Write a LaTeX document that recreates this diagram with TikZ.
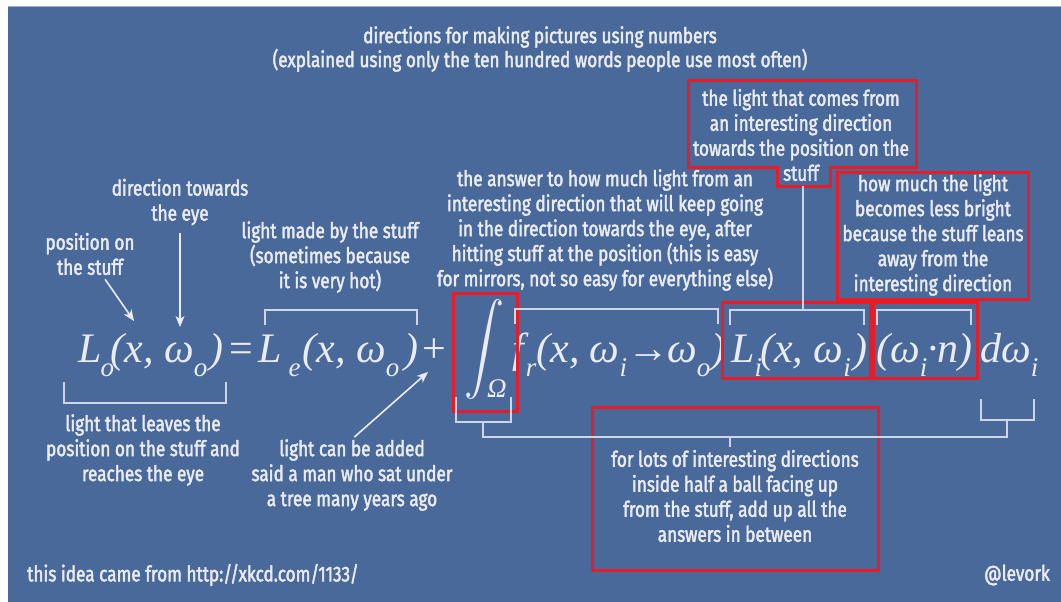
\documentclass[tikz,border=0pt]{standalone}
\usepackage{fontspec}
\usepackage{graphicx}
\usetikzlibrary{arrows.meta}
\newfontfamily\hand{Fira Sans}[FakeStretch=0.8,FakeBold=2]
\newfontfamily\eqf{Liberation Serif}
\newcommand\sbx[1]{\raisebox{-14pt}{\fontsize{27}{27}\selectfont #1}}
\definecolor{bg}{RGB}{73,105,155}
\definecolor{ink}{RGB}{234,236,242}
\definecolor{brk}{RGB}{205,214,230}
\definecolor{boxred}{RGB}{232,28,38}
\definecolor{edge}{RGB}{150,175,220}
\begin{document}
\begin{tikzpicture}[x=1pt,y=-1pt,
  txt/.style={font=\hand\fontsize{21.5}{25}\selectfont, text=ink, align=center, inner sep=0pt},
  big/.style={font=\eqf\itshape\fontsize{42}{42}\selectfont, text=ink, anchor=base west, inner sep=0pt},
  bigup/.style={font=\eqf\fontsize{42}{42}\selectfont, text=ink, anchor=base west, inner sep=0pt},
  sml/.style={font=\eqf\itshape\fontsize{27}{27}\selectfont, text=ink, anchor=base west, inner sep=0pt},
  brk/.style={draw=brk, line width=2pt},
  redbox/.style={draw=boxred, line width=3pt},
  arr/.style={draw=ink, line width=1.6pt, -{Stealth[length=11pt,width=9pt,inset=3pt]}}]
\useasboundingbox (0,0) rectangle (1061,602);
\fill[white] (0,0) rectangle (1061,602);
\fill[bg] (8,6) rectangle (1061,602);
\draw[edge, line width=1pt] (8,6.5) -- (1061,6.5);

% title
\node[txt, font=\hand\fontsize{21.5}{24}\selectfont] (title) at (540,49)
  {directions for making pictures using numbers\\(explained using only the ten hundred words people use most often)};

% equation
\node[big] (lo) at (78,362) {L\kern-1pt\sbx{o}\kern-3.5pt(x, ω\sbx{o}\kern2pt)};
\node[bigup] (eq) at (229,362) {=};
\node[big] (le) at (258,362) {L\kern7pt\sbx{e}\kern2pt(x, ω\sbx{o}\kern5pt)};
\node[bigup] (plus) at (422,362) {+};
\node[text=ink, inner sep=0pt] (int) at (484,350) {\resizebox*{40pt}{100pt}{$\displaystyle\int$}};
\node[sml] (om) at (487,397) {Ω};
\node[big] (fr) at (512,362) {f\kern2pt\sbx{r}(x, ω\sbx{i}{\upshape →}\kern-2ptω\sbx{o}\kern1pt)};
\node[big] (li) at (731,362) {L\sbx{i}\kern-2pt(x, ω\sbx{i}\kern3pt)};
\node[big] (cosn) at (876,362) {(ω\sbx{i}\kern0pt·n)};
\node[big] (dw) at (980,362) {dω\sbx{i}};

% labels
\node[txt] (dir) at (180,202) {direction towards\\the eye};
\node[txt] (posn) at (90,254) {position on\\the stuff};
\node[txt] (emit) at (330,257) {light made by the stuff\\(sometimes because\\it is very hot)};
\node[txt] (brdf) at (605,230) {the answer to how much light from an\\interesting direction that will keep going\\in the direction towards the eye, after\\hitting stuff at the position (this is easy\\for mirrors, not so easy for everything else)};
\node[txt] (incl) at (801,135) {the light that comes from\\an interesting direction\\towards the position on the\\stuff};
\node[txt] (cosl) at (933,235) {how much the light\\becomes less bright\\because the stuff leans\\away from the\\interesting direction};
\node[txt] (outl) at (143,450) {light that leaves the\\position on the stuff and\\reaches the eye};
\node[txt] (add) at (352,475) {light can be added\\said a man who sat under\\a tree many years ago};
\node[txt] (sum) at (735,496) {for lots of interesting directions\\inside half a ball facing up\\from the stuff, add up all the\\answers in between};
\node[txt, anchor=west] (src) at (27,575) {this idea came from http://xkcd.com/1133/};
\node[txt, anchor=east] (auth) at (1050,575) {@levork};

% red boxes
\draw[redbox] (688,81) -- (916,81) -- (916,167) -- (830,167) -- (830,186) -- (777,186) -- (777,167) -- (688,167) -- cycle;
\node[redbox, minimum width=191pt, minimum height=127pt, inner sep=0pt] (cosbox) at (933,235.5) {};
\node[redbox, minimum width=148pt, minimum height=76pt, inner sep=0pt] (libox) at (796,340.5) {};
\node[redbox, minimum width=104pt, minimum height=76pt, inner sep=0pt] (cbox) at (925,340.5) {};
\node[redbox, minimum width=64pt, minimum height=118pt, inner sep=0pt] (ibox) at (485,352) {};
\node[redbox, minimum width=286pt, minimum height=163pt, inner sep=0pt] (sumbox) at (735,488.5) {};

% brackets above
\draw[brk] (265,325) -- (265,309.5) -- (417,309.5) -- (417,325);
\draw[brk] (515,324) -- (515,309) -- (718,309) -- (718,324);
\draw[brk] (730,325) -- (730,309.5) -- (864,309.5) -- (864,325);
\draw[brk] (877,325) -- (877,309.5) -- (971,309.5) -- (971,325);
\coordinate (tab) at (803,186);
\coordinate (litop) at (803,309.5);
\draw[brk, line width=1.5pt] (tab) -- (litop);

% brackets below
\draw[brk] (64,382) -- (64,403) -- (226,403) -- (226,382);
\draw[brk] (456,397) -- (456,422) -- (511,422) -- (511,397);
\draw[brk] (981,399) -- (981,420) -- (1034,420) -- (1034,399);
\coordinate (ib) at (483,422);
\coordinate (db) at (1007,420);
\draw[brk] (ib) -- (483,437) -- (1007,437) -- (db);
\draw[brk] (730,437) -- (730,447);

% arrows
\coordinate (p1) at (134,321);
\coordinate (p2) at (180,327);
\coordinate (p3) at (428,372);
\draw[arr, shorten <=5pt] (posn.-60) -- (p1);
\draw[arr, shorten <=8pt] (dir.south) -- (p2);
\draw[arr, shorten <=3pt] (add.north) -- (p3);
\end{tikzpicture}
\end{document}
